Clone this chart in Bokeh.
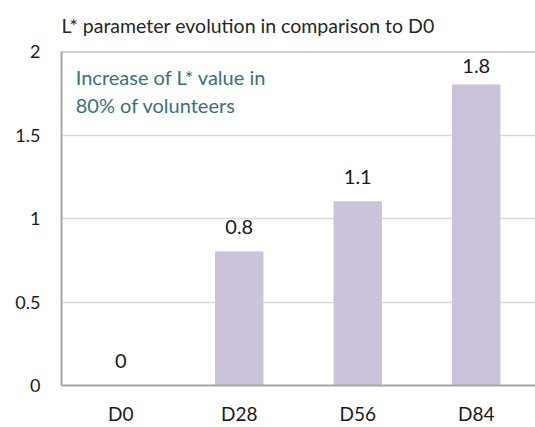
from bokeh.plotting import figure
from bokeh.models import ColumnDataSource, Range1d, FixedTicker, LabelSet, Label, Span
from bokeh.core.properties import value
from bokeh.embed import file_html
from bokeh.resources import INLINE

categories = ["D0", "D28", "D56", "D84"]
values = [0, 0.8, 1.1, 1.8]
y_ticks = [0, 0.5, 1, 1.5, 2]
title_text = "L* parameter evolution in comparison to D0"
note_lines = ["Increase of L* value in", "80% of volunteers"]

FONT = "Lato"
BAR = "#cbc2db"
TEAL = "#3b6f7d"
FRAME = "#a6a6a6"

labels = [f"{v:g}" for v in values]
top_v = max(values)
offsets = [12 if v == top_v else 18 for v in values]
src = ColumnDataSource(dict(cat=categories, val=values, lab=labels, off=offsets))

p = figure(x_range=categories, y_range=Range1d(0, 2), width=535, height=427,
           output_backend="svg", toolbar_location=None,
           min_border_left=61, min_border_right=0, min_border_top=51, min_border_bottom=38)

p.vbar(x="cat", top="val", width=0.4, color=BAR, source=src)

p.add_layout(LabelSet(x="cat", y="val", text="lab", source=src, y_offset="off",
                      text_align="center", text_baseline="alphabetic",
                      text_font=value(FONT), text_font_size="20px", text_color="#1a1a1a"))

p.title.text = title_text
p.title.text_font = FONT
p.title.text_font_size = "19.5px"
p.title.text_font_style = "normal"
p.title.text_color = "#262626"
p.title.align = "left"
p.title.vertical_align = "top"
p.title.standoff = 26

p.add_layout(Label(x=0.12, y=1.847, text=note_lines[0], text_font=FONT,
                   text_font_size="20px", text_color=TEAL, text_baseline="alphabetic"))
p.add_layout(Label(x=0.12, y=1.68, text=note_lines[1], text_font=FONT,
                   text_font_size="20px", text_color=TEAL, text_baseline="alphabetic"))

p.outline_line_color = None
p.add_layout(Span(location=2, dimension="width", line_color=FRAME, line_width=2))

p.xgrid.grid_line_color = None
p.ygrid.grid_line_color = "#d9d9d9"
p.ygrid.grid_line_width = 1.5
p.yaxis.ticker = FixedTicker(ticks=y_ticks)

for ax in (p.xaxis[0], p.yaxis[0]):
    ax.axis_line_color = FRAME
    ax.axis_line_width = 2
    ax.major_tick_line_color = None
    ax.minor_tick_line_color = None
    ax.major_tick_out = 0
    ax.major_tick_in = 0
    ax.major_label_text_font = FONT
    ax.major_label_text_color = "#1a1a1a"

p.xaxis.major_label_text_font_size = "19px"
p.yaxis.major_label_text_font_size = "18px"
p.yaxis.major_label_standoff = 21
p.xaxis.major_label_standoff = 16

open("out.html", "w").write(file_html(p, INLINE))
